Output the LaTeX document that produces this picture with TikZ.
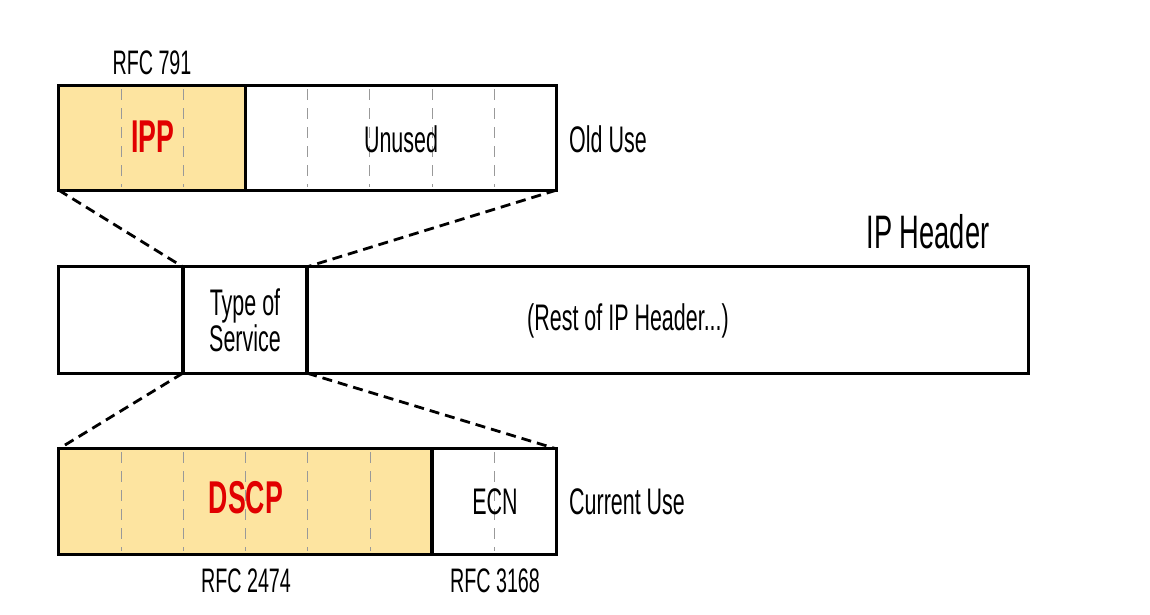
\documentclass[tikz,border=0pt]{standalone}
\usepackage{fontspec}
\setmainfont{Liberation Sans}[FakeStretch=0.58]
\definecolor{fieldyellow}{RGB}{253,228,160}
\definecolor{fieldred}{RGB}{225,0,0}
\begin{document}
\begin{tikzpicture}[x=1pt,y=-1pt,
  field/.style={inner sep=0pt, minimum height=105pt},
  border/.style={draw=black, line width=2.8pt},
  bitline/.style={draw=black!40, line width=1pt, dash pattern=on 11pt off 8pt},
  conn/.style={draw=black, line width=2.8pt, dash pattern=on 10pt off 6pt},
  lbl/.style={inner sep=0pt, text=black},
  big/.style={lbl, font=\fontsize{37}{36}\selectfont},
  small/.style={lbl, font=\fontsize{34}{36}\selectfont},
  hot/.style={lbl, text=fieldred, font=\fontsize{46}{50}\bfseries\selectfont}]
\useasboundingbox (0,0) rectangle (1150,614);
\fill[white] (0,0) rectangle (1150,614);
% top (old use)
\node[field, fill=fieldyellow, minimum width=186.5pt, minimum height=104pt] (ipp) at (152.25,138) {};
\node[field, fill=white, minimum width=310.5pt, minimum height=104pt] (unused) at (400.75,138) {};
% middle (IP header)
\node[field, minimum width=124pt, minimum height=106pt] (pre) at (121,320) {};
\node[field, minimum width=124pt, minimum height=106pt] (tos) at (245,320) {};
\node[field, minimum width=721pt, minimum height=106pt] (rest) at (667.5,320) {};
% bottom (current use)
\node[field, fill=fieldyellow, minimum width=373pt] (dscp) at (245.5,501.5) {};
\node[field, fill=white, minimum width=124pt] (ecn) at (494,501.5) {};
% bit dividers
\foreach \x in {121,183} \draw[bitline] (\x,89) -- (\x,187);
\foreach \x in {307.6,369.8,432,494} \draw[bitline] (\x,89) -- (\x,187);
\foreach \x in {121,183,245,307,370,494} \draw[bitline] (\x,452) -- (\x,551);
% borders
\foreach \n in {ipp,unused,pre,tos,rest,dscp,ecn} \draw[border] (\n.north west) rectangle (\n.south east);
% texts
\node[hot] (ipptxt) at (153,137) {IPP};
\node[big] (unusedtxt) at (401,139) {Unused};
\node[big, anchor=west] (olduse) at (569,139) {Old Use};
\node[small] (rfc791) at (152,63) {RFC 791};
\node[lbl, font=\fontsize{47}{50}\selectfont] (iphdr) at (928,232) {IP Header};
\node[big, align=center] (tostxt) at (245,320) {Type of\\Service};
\node[big] (resttxt) at (628,321) {(Rest of IP Header...)};
\node[hot] (dscptxt) at (246,498) {DSCP};
\node[big] (ecntxt) at (495,502) {ECN};
\node[big, anchor=west] (curuse) at (569,502) {Current Use};
\node[small] (rfc2474) at (246,581) {RFC 2474};
\node[small] (rfc3168) at (495,581) {RFC 3168};
% zoom connectors
\draw[conn] (ipp.south west) -- (tos.north west);
\draw[conn] (unused.south east) -- (tos.north east);
\draw[conn] (tos.south west) -- (dscp.north west);
\draw[conn] (tos.south east) -- (ecn.north east);
\end{tikzpicture}
\end{document}
